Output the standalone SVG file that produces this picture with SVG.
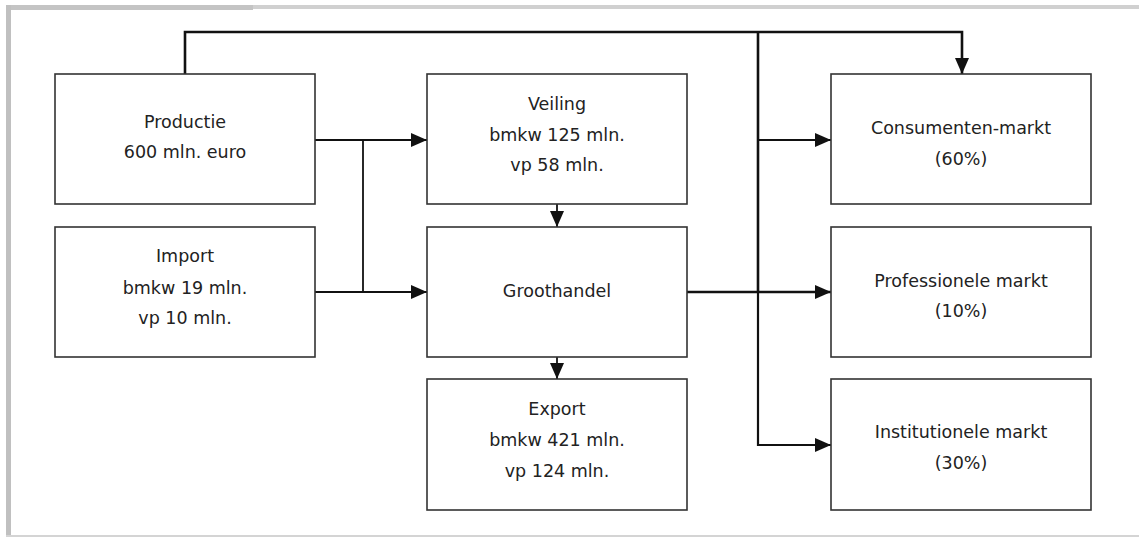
<svg xmlns="http://www.w3.org/2000/svg" width="1139" height="537" viewBox="0 0 1139 537">
<style>
.box{fill:#fff;stroke:#333;stroke-width:1.6}
.t{font-family:"DejaVu Sans",sans-serif;font-size:17.5px;fill:#222;text-anchor:middle}
.c{fill:none;stroke:#111;stroke-width:1.8}
.k{fill:none;stroke:#111;stroke-width:2.6}
</style>
<defs>
<marker id="ah" markerUnits="userSpaceOnUse" markerWidth="16" markerHeight="14" refX="16" refY="7" orient="auto">
<path d="M0,0 L16,7 L0,14 z" fill="#111"/>
</marker>
</defs>
<rect x="0" y="0" width="1139" height="537" fill="#fff"/>
<g id="frame">
<rect x="6" y="5" width="247" height="5" fill="#c4c4c4"/>
<rect x="253" y="5" width="886" height="4" fill="#d0d0d0"/>
<rect x="6" y="5" width="5" height="532" fill="#c0c0c0"/>
<rect x="6" y="535" width="1133" height="2" fill="#d4d4d4"/>
</g>
<g id="connectors">
<path class="k" d="M185,74 V32 H962 V74" marker-end="url(#ah)"/>
<path class="k" d="M758,32 V292"/>
<path class="c" style="stroke-width:2.2" d="M758,292 V445 H831" marker-end="url(#ah)"/>
<path class="c" d="M758,140 H831" marker-end="url(#ah)"/>
<path class="c" d="M315,140 H427" marker-end="url(#ah)"/>
<path class="c" d="M363,140 V292"/>
<path class="c" d="M315,292 H427" marker-end="url(#ah)"/>
<path class="k" d="M687,292 H831" marker-end="url(#ah)"/>
<path class="c" d="M557,204 V227" marker-end="url(#ah)"/>
<path class="c" d="M557,357 V379" marker-end="url(#ah)"/>
</g>
<g id="productie">
<rect class="box" x="55" y="74" width="260" height="130"/>
<text class="t" x="185" y="128">Productie</text>
<text class="t" x="185" y="158">600 mln. euro</text>
</g>
<g id="import">
<rect class="box" x="55" y="227" width="260" height="130"/>
<text class="t" x="185" y="262">Import</text>
<text class="t" x="185" y="294">bmkw 19 mln.</text>
<text class="t" x="185" y="324">vp 10 mln.</text>
</g>
<g id="veiling">
<rect class="box" x="427" y="74" width="260" height="130"/>
<text class="t" x="557" y="110">Veiling</text>
<text class="t" x="557" y="141">bmkw 125 mln.</text>
<text class="t" x="557" y="171">vp 58 mln.</text>
</g>
<g id="groothandel">
<rect class="box" x="427" y="227" width="260" height="130"/>
<text class="t" x="557" y="297">Groothandel</text>
</g>
<g id="export">
<rect class="box" x="427" y="379" width="260" height="131"/>
<text class="t" x="557" y="415">Export</text>
<text class="t" x="557" y="446">bmkw 421 mln.</text>
<text class="t" x="557" y="477">vp 124 mln.</text>
</g>
<g id="consumenten">
<rect class="box" x="831" y="74" width="260" height="130"/>
<text class="t" x="961" y="134">Consumenten-markt</text>
<text class="t" x="961" y="165">(60%)</text>
</g>
<g id="professionele">
<rect class="box" x="831" y="227" width="260" height="130"/>
<text class="t" x="961" y="287">Professionele markt</text>
<text class="t" x="961" y="317">(10%)</text>
</g>
<g id="institutionele">
<rect class="box" x="831" y="379" width="260" height="131"/>
<text class="t" x="961" y="438">Institutionele markt</text>
<text class="t" x="961" y="469">(30%)</text>
</g>
</svg>
